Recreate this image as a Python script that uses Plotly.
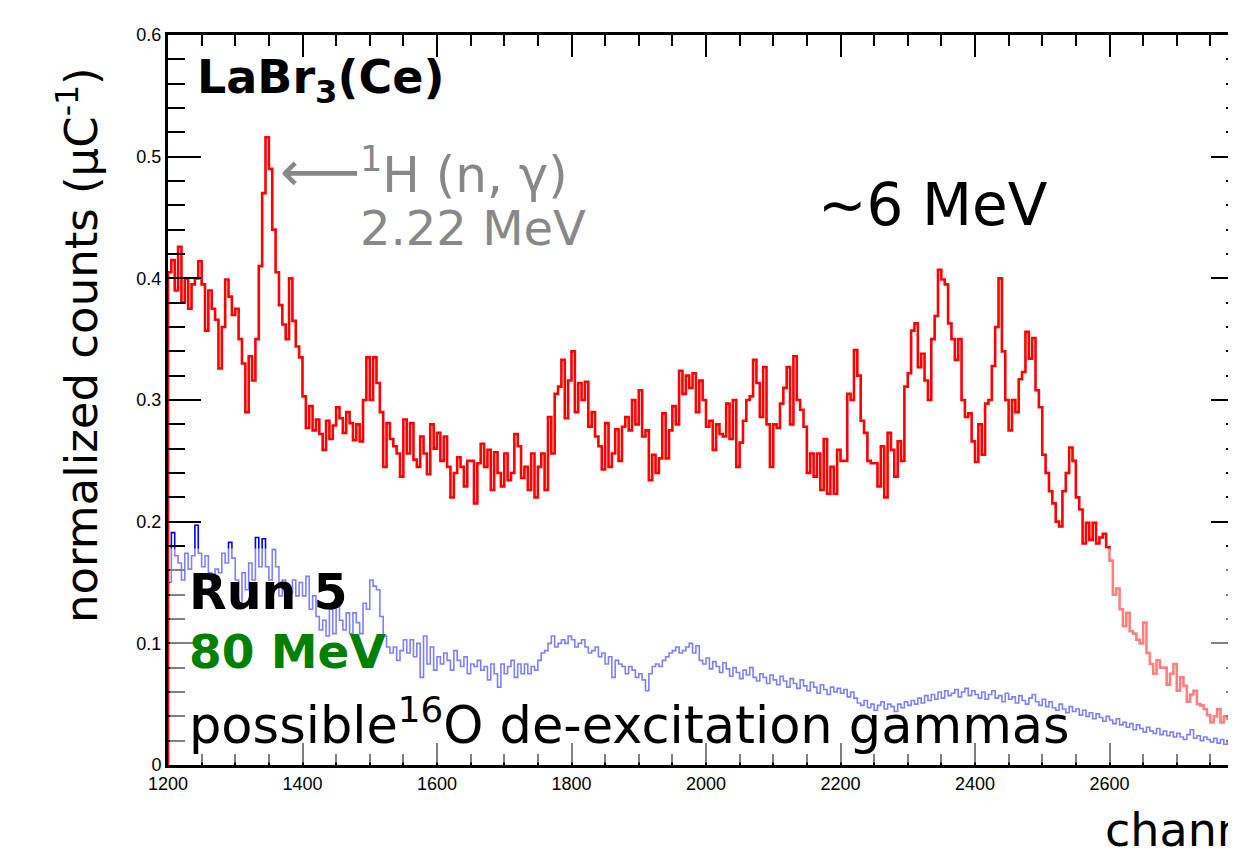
import plotly.graph_objects as go

# ---------------- data (5-channel bins, left edges from 1200) ----------------
bin_start = 1200
bin_width = 5

red_counts = [
    0.405, 0.415, 0.39, 0.426, 0.38, 0.40, 0.375, 0.395, 0.40, 0.414, 0.395, 0.357, 0.39, 0.375, 0.366, 0.326, 0.36, 0.399, 0.385, 0.37,
    0.375, 0.35, 0.33, 0.29, 0.336, 0.316, 0.35, 0.41, 0.47, 0.516, 0.49, 0.44, 0.405, 0.378, 0.362, 0.35, 0.40, 0.365, 0.344, 0.335,
    0.303, 0.277, 0.295, 0.275, 0.284, 0.272, 0.259, 0.283, 0.268, 0.279, 0.294, 0.285, 0.273, 0.29, 0.281, 0.267, 0.28, 0.266, 0.30, 0.335,
    0.30, 0.335, 0.314, 0.29, 0.245, 0.281, 0.268, 0.262, 0.256, 0.237, 0.284, 0.256, 0.281, 0.251, 0.245, 0.27, 0.256, 0.239, 0.28, 0.26,
    0.273, 0.25, 0.27, 0.245, 0.22, 0.24, 0.253, 0.245, 0.229, 0.25, 0.25, 0.215, 0.248, 0.264, 0.245, 0.259, 0.226, 0.257, 0.24, 0.229,
    0.256, 0.234, 0.24, 0.272, 0.262, 0.236, 0.245, 0.226, 0.256, 0.22, 0.245, 0.256, 0.226, 0.286, 0.256, 0.305, 0.311, 0.333, 0.285, 0.316,
    0.34, 0.29, 0.314, 0.30, 0.315, 0.278, 0.29, 0.27, 0.262, 0.243, 0.281, 0.245, 0.256, 0.276, 0.25, 0.278, 0.286, 0.275, 0.30, 0.28,
    0.308, 0.27, 0.275, 0.234, 0.255, 0.24, 0.252, 0.289, 0.252, 0.275, 0.295, 0.28, 0.324, 0.305, 0.32, 0.31, 0.322, 0.29, 0.316, 0.30,
    0.278, 0.283, 0.259, 0.28, 0.272, 0.27, 0.297, 0.268, 0.30, 0.245, 0.265, 0.283, 0.30, 0.303, 0.333, 0.314, 0.286, 0.327, 0.28, 0.245,
    0.28, 0.277, 0.297, 0.31, 0.327, 0.28, 0.336, 0.30, 0.292, 0.278, 0.24, 0.256, 0.237, 0.256, 0.226, 0.268, 0.223, 0.245, 0.223, 0.259,
    0.25, 0.25, 0.305, 0.30, 0.341, 0.32, 0.283, 0.273, 0.25, 0.248, 0.248, 0.229, 0.262, 0.22, 0.273, 0.259, 0.237, 0.266, 0.25, 0.311,
    0.322, 0.357, 0.363, 0.327, 0.338, 0.316, 0.30, 0.35, 0.369, 0.407, 0.399, 0.395, 0.363, 0.35, 0.333, 0.35, 0.30, 0.286, 0.289, 0.266,
    0.249, 0.28, 0.255, 0.297, 0.30, 0.328, 0.36, 0.40, 0.34, 0.30, 0.275, 0.30, 0.29, 0.317, 0.323, 0.356, 0.334, 0.351, 0.308, 0.294,
    0.255, 0.24, 0.225, 0.215, 0.20, 0.196, 0.225, 0.24, 0.261, 0.25, 0.22, 0.21, 0.182, 0.199, 0.185, 0.199, 0.182, 0.187, 0.19, 0.179,
    0.168, 0.14, 0.145, 0.128, 0.114, 0.125, 0.11, 0.108, 0.103, 0.10, 0.117, 0.092, 0.083, 0.075, 0.086, 0.08, 0.08, 0.066, 0.075, 0.083,
    0.061, 0.072, 0.065, 0.052, 0.058, 0.061, 0.05, 0.049, 0.046, 0.041, 0.035, 0.04, 0.046, 0.035, 0.04, 0.038, 0.035, 0.038, 0.04, 0.041,
]

blue_counts = [
    0.15, 0.191, 0.172, 0.166, 0.152, 0.174, 0.161, 0.172, 0.197, 0.174, 0.163, 0.172, 0.158, 0.147, 0.161, 0.158, 0.174, 0.166, 0.183, 0.17,
    0.152, 0.133, 0.158, 0.144, 0.166, 0.152, 0.187, 0.163, 0.186, 0.163, 0.152, 0.177, 0.163, 0.139, 0.152, 0.139, 0.141, 0.152, 0.139, 0.15,
    0.139, 0.155, 0.128, 0.139, 0.122, 0.111, 0.119, 0.106, 0.128, 0.108, 0.13, 0.119, 0.111, 0.125, 0.108, 0.125, 0.117, 0.108, 0.133, 0.128,
    0.152, 0.147, 0.144, 0.122, 0.106, 0.097, 0.092, 0.097, 0.086, 0.094, 0.103, 0.092, 0.103, 0.089, 0.10, 0.072, 0.106, 0.083, 0.097, 0.078,
    0.089, 0.083, 0.092, 0.086, 0.078, 0.094, 0.086, 0.081, 0.089, 0.075, 0.083, 0.081, 0.086, 0.078, 0.081, 0.07, 0.083, 0.075, 0.064, 0.083,
    0.075, 0.081, 0.086, 0.072, 0.083, 0.075, 0.083, 0.075, 0.081, 0.078, 0.086, 0.092, 0.094, 0.10, 0.106, 0.097, 0.10, 0.103, 0.10, 0.106,
    0.103, 0.097, 0.10, 0.103, 0.097, 0.092, 0.094, 0.097, 0.089, 0.092, 0.083, 0.089, 0.072, 0.086, 0.083, 0.081, 0.075, 0.081, 0.078, 0.072,
    0.075, 0.07, 0.061, 0.075, 0.081, 0.083, 0.081, 0.086, 0.089, 0.092, 0.094, 0.097, 0.092, 0.094, 0.097, 0.10, 0.092, 0.098, 0.086, 0.083,
    0.088, 0.079, 0.085, 0.081, 0.076, 0.084, 0.079, 0.073, 0.08, 0.076, 0.071, 0.078, 0.074, 0.08, 0.072, 0.069, 0.075, 0.072, 0.067, 0.074,
    0.07, 0.066, 0.073, 0.069, 0.064, 0.071, 0.067, 0.063, 0.07, 0.065, 0.061, 0.068, 0.064, 0.059, 0.066, 0.062, 0.058, 0.064, 0.06, 0.063,
    0.059, 0.062, 0.056, 0.06, 0.055, 0.051, 0.049, 0.053, 0.047, 0.05, 0.045, 0.049, 0.052, 0.046, 0.05, 0.048, 0.044, 0.05, 0.047, 0.052,
    0.049, 0.053, 0.05, 0.055, 0.051, 0.057, 0.053, 0.058, 0.054, 0.06, 0.055, 0.061, 0.057, 0.059, 0.062, 0.056, 0.06, 0.063, 0.057, 0.061,
    0.058, 0.055, 0.06, 0.054, 0.058, 0.061, 0.055, 0.057, 0.052, 0.059, 0.054, 0.056, 0.051, 0.057, 0.053, 0.05, 0.055, 0.058, 0.052, 0.049,
    0.054, 0.048, 0.052, 0.047, 0.045, 0.05, 0.046, 0.043, 0.048, 0.044, 0.046, 0.041, 0.045, 0.04, 0.043, 0.038, 0.042, 0.039, 0.036, 0.04,
    0.037, 0.034, 0.038, 0.033, 0.035, 0.031, 0.034, 0.029, 0.033, 0.03, 0.027, 0.031, 0.028, 0.026, 0.03, 0.025, 0.028, 0.024, 0.027, 0.023,
    0.026, 0.023, 0.021, 0.025, 0.029, 0.022, 0.024, 0.02, 0.023, 0.021, 0.019, 0.022, 0.018, 0.021, 0.017, 0.02, 0.018, 0.016, 0.019, 0.015,
]

x_tick_vals = [1200, 1400, 1600, 1800, 2000, 2200, 2400, 2600, 2800]
x_tick_text = ["1200", "1400", "1600", "1800", "2000", "2200", "2400", "2600", "2800"]
y_tick_vals = [0, 0.1, 0.2, 0.3, 0.4, 0.5, 0.6]
y_tick_text = ["0", "0.1", "0.2", "0.3", "0.4", "0.5", "0.6"]


def hist_outline(counts):
    lefts = [bin_start + i * bin_width for i in range(len(counts))]
    xs = [bin_start] + lefts + [lefts[-1] + bin_width]
    ys = [0] + list(counts) + [counts[-1]]
    return xs, ys


# The page body has an 8 px margin: the figure is sized so the page does not
# overflow the 1236x855 window, and laid out 8 px up/left of the screen target.
W, H = 1220, 839
L, R, T, B = 160, 0, 27, 82
PW, PH = W - L - R, H - T - B   # 1060 x 730
CH_PER_PX = 1 / 0.6725          # channels per screen pixel in the reference
x_end = 1200 + PW * CH_PER_PX


def px(xd):  # screen x -> paper fraction
    return (xd - 168) / PW


def py(yd):  # screen y -> paper fraction
    return (765 - yd) / PH


FONT = "DejaVu Sans"
TICKFONT = "Liberation Sans, Arial, sans-serif"

fig = go.Figure()
bx, by = hist_outline(blue_counts)
fig.add_trace(go.Scatter(x=bx, y=by, mode="lines", line=dict(color="#0000ff", width=1.6, shape="hv"),
                         showlegend=False, hoverinfo="skip"))
rx, ry = hist_outline(red_counts)
fig.add_trace(go.Scatter(x=rx, y=ry, mode="lines", line=dict(color="#ff0000", width=2.6, shape="hv"),
                         showlegend=False, hoverinfo="skip", yaxis="y2"))

fig.update_layout(
    width=W, height=H,
    margin=dict(l=L, r=R, t=T, b=B, pad=0),
    paper_bgcolor="white", plot_bgcolor="white",
    xaxis=dict(range=[1200, x_end], tickmode="array", tickvals=x_tick_vals, ticktext=x_tick_text,
               ticks="inside", ticklen=22, tickwidth=2, tickcolor="black",
               minor=dict(dtick=50, tick0=1200, ticks="inside", ticklen=11, tickwidth=1.6, tickcolor="black"),
               showline=True, linewidth=3, linecolor="black", mirror="ticks",
               showgrid=False, zeroline=False,
               tickfont=dict(family=TICKFONT, size=18, color="black")),
    yaxis=dict(range=[0, 0.6], tickmode="array", tickvals=y_tick_vals, ticktext=y_tick_text,
               ticks="inside", ticklen=33, tickwidth=2, tickcolor="black",
               minor=dict(dtick=0.02, tick0=0, ticks="inside", ticklen=17, tickwidth=1.6, tickcolor="black"),
               showline=True, linewidth=3, linecolor="black",
               showgrid=False, zeroline=False,
               tickfont=dict(family=TICKFONT, size=18, color="black")),
    # right-hand frame lies just outside the window in the reference: only the
    # inner parts of its ticks show
    yaxis2=dict(range=[0, 0.6], overlaying="y", side="right", anchor="x",
                tickmode="array", tickvals=y_tick_vals, showticklabels=False,
                ticks="inside", ticklen=17, tickwidth=2, tickcolor="black",
                minor=dict(dtick=0.02, tick0=0, ticks="inside", ticklen=2, tickwidth=1.6, tickcolor="black"),
                showline=False, showgrid=False, zeroline=False),
)

# translucent white veil over the lower part of the frame
fig.add_shape(type="rect", xref="x", yref="y", x0=1203, x1=2900, y0=0.002, y1=0.178,
              fillcolor="white", opacity=0.5, line=dict(width=0), layer="above")

ann = []
ann.append(dict(text="LaBr<sub>3</sub>(Ce)", x=px(195), y=py(80), xanchor="left", yanchor="middle",
                font=dict(family=FONT, size=46, color="black", weight="bold")))
ann.append(dict(text="\u27f5", x=px(320), y=py(172), xanchor="center", yanchor="middle",
                font=dict(family=FONT, size=56, color="#888888")))
ann.append(dict(text="<sup>1</sup>H (n, \u03b3)", x=px(358), y=py(172), xanchor="left", yanchor="middle",
                font=dict(family=FONT, size=50, color="#888888")))
ann.append(dict(text="2.22 MeV", x=px(358), y=py(228), xanchor="left", yanchor="middle",
                font=dict(family=FONT, size=48, color="#888888")))
ann.append(dict(text="~6 MeV", x=px(816), y=py(205), xanchor="left", yanchor="middle",
                font=dict(family=FONT, size=58, color="black")))
ann.append(dict(text="Run 5", x=px(187), y=py(592), xanchor="left", yanchor="middle",
                font=dict(family=FONT, size=49, color="black", weight="bold")))
ann.append(dict(text="80 MeV", x=px(187), y=py(651), xanchor="left", yanchor="middle",
                font=dict(family=FONT, size=47, color="#008000", weight="bold")))
ann.append(dict(text="possible<sup>16</sup>O de-excitation gammas", x=px(187), y=py(722),
                xanchor="left", yanchor="middle",
                font=dict(family=FONT, size=51, color="black")))
ann.append(dict(text="normalized counts (\u03bcC<sup>-1</sup>)", x=px(78), y=py(345), textangle=-90,
                xanchor="center", yanchor="middle",
                font=dict(family=FONT, size=45, color="black")))
ann.append(dict(text="channel", x=px(1103), y=py(830), xanchor="left", yanchor="middle",
                font=dict(family=FONT, size=46, color="black")))

for a in ann:
    a.update(xref="paper", yref="paper", showarrow=False)
fig.update_layout(annotations=ann)

fig.write_html("out.html")
